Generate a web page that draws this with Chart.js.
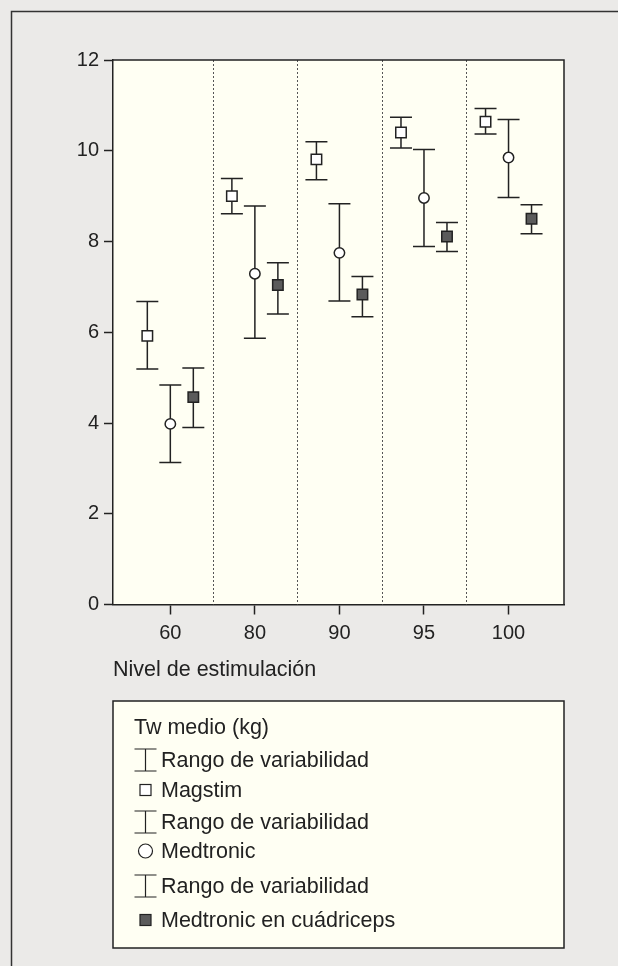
<!DOCTYPE html>
<html>
<head>
<meta charset="utf-8">
<script src="https://cdn.jsdelivr.net/npm/chart.js@4/dist/chart.umd.min.js"></script>
<style>
  html, body { margin: 0; padding: 0; background: #ebeae8; }
  #wrap { width: 618px; height: 966px; position: relative; }
  canvas { display: block; }
</style>
</head>
<body>
<div id="wrap"><canvas id="c" width="618" height="966"></canvas></div>
<script>
// Stimulation levels (categories on the x axis)
const levels = ['60', '80', '90', '95', '100'];

// Mean twitch (kg) and variability range per device
const magstimMean   = [5.92, 9.00, 9.81, 10.40, 10.64];
const magstimLow    = [5.19, 8.61, 9.36, 10.06, 10.37];
const magstimHigh   = [6.68, 9.39, 10.20, 10.74, 10.93];

const medtronicMean = [3.98, 7.29, 7.75, 8.96, 9.85];
const medtronicLow  = [3.13, 5.87, 6.69, 7.89, 8.97];
const medtronicHigh = [4.84, 8.78, 8.83, 10.03, 10.69];

const quadMean      = [4.57, 7.04, 6.83, 8.11, 8.50];
const quadLow       = [3.90, 6.40, 6.34, 7.78, 8.17];
const quadHigh      = [5.21, 7.53, 7.23, 8.42, 8.81];

const yTicks = [0, 2, 4, 6, 8, 10, 12];

const axisTitle = 'Nivel de estimulación';
const legendTitle = 'Tw medio (kg)';
const legendRows = [
  { kind: 'range',  text: 'Rango de variabilidad' },
  { kind: 'square', text: 'Magstim' },
  { kind: 'range',  text: 'Rango de variabilidad' },
  { kind: 'circle', text: 'Medtronic' },
  { kind: 'range',  text: 'Rango de variabilidad' },
  { kind: 'filled', text: 'Medtronic en cuádriceps' }
];

const FONT = "'Liberation Sans', Arial, Helvetica, sans-serif";
const INK = '#222';
const PAGE_BG = '#ebeae8';
const PLOT_BG = '#fffff3';
const FILL_DARK = '#5b5b5b';
const GROUP_SHIFT = 0.272;   // horizontal spread of the three devices inside a level

const series = [
  { label: 'Magstim',   mean: magstimMean,   low: magstimLow,   high: magstimHigh,   shift: -GROUP_SHIFT,
    style: 'rect',   radius: 7.4, fill: '#ffffff' },
  { label: 'Medtronic', mean: medtronicMean, low: medtronicLow, high: medtronicHigh, shift: 0,
    style: 'circle', radius: 5.2, fill: '#ffffff' },
  { label: 'Medtronic en cuádriceps', mean: quadMean, low: quadLow, high: quadHigh, shift: GROUP_SHIFT,
    style: 'rect',   radius: 7.4, fill: FILL_DARK }
];

const datasets = series.map(s => ({
  label: s.label,
  data: s.mean.map((v, i) => ({ x: i + s.shift, y: v, low: s.low[i], high: s.high[i] })),
  showLine: false,
  pointStyle: s.style,
  pointRadius: s.radius,
  pointHoverRadius: s.radius,
  pointBackgroundColor: s.fill,
  pointBorderColor: INK,
  pointBorderWidth: 1.5
}));

// Page background, outer frame, plot fill
const backdrop = {
  id: 'backdrop',
  beforeDraw(chart) {
    const { ctx, width, height, chartArea: a } = chart;
    ctx.save();
    ctx.fillStyle = PAGE_BG;
    ctx.fillRect(0, 0, width, height);
    ctx.strokeStyle = '#333';
    ctx.lineWidth = 1.5;
    ctx.beginPath();
    ctx.moveTo(width, 11.5);
    ctx.lineTo(11.5, 11.5);
    ctx.lineTo(11.5, height);
    ctx.stroke();
    ctx.fillStyle = PLOT_BG;
    ctx.fillRect(a.left, a.top, a.right - a.left, a.bottom - a.top);
    ctx.restore();
  }
};

// Dotted separators between levels, plot frame and range bars
const rangeBars = {
  id: 'rangeBars',
  beforeDatasetsDraw(chart) {
    const { ctx, chartArea: a, scales: { x, y } } = chart;
    ctx.save();
    // separators
    ctx.strokeStyle = '#555';
    ctx.lineWidth = 1;
    ctx.setLineDash([2, 2]);
    for (let i = 0; i < levels.length - 1; i++) {
      const px = Math.round(x.getPixelForValue(i + 0.5)) + 0.5;
      ctx.beginPath();
      ctx.moveTo(px, a.top);
      ctx.lineTo(px, a.bottom);
      ctx.stroke();
    }
    ctx.setLineDash([]);
    // top and right frame
    ctx.strokeStyle = INK;
    ctx.lineWidth = 1.5;
    ctx.beginPath();
    ctx.moveTo(a.left, a.top);
    ctx.lineTo(a.right, a.top);
    ctx.lineTo(a.right, a.bottom);
    ctx.stroke();
    // range bars
    ctx.strokeStyle = INK;
    ctx.lineWidth = 1.5;
    const cap = 11;
    chart.data.datasets.forEach(ds => {
      ds.data.forEach(p => {
        const px = x.getPixelForValue(p.x);
        const yl = y.getPixelForValue(p.low);
        const yh = y.getPixelForValue(p.high);
        ctx.beginPath();
        ctx.moveTo(px, yl);
        ctx.lineTo(px, yh);
        ctx.moveTo(px - cap, yh);
        ctx.lineTo(px + cap, yh);
        ctx.moveTo(px - cap, yl);
        ctx.lineTo(px + cap, yl);
        ctx.stroke();
      });
    });
    ctx.restore();
  }
};

// Boxed key below the plot
const keyBox = {
  id: 'keyBox',
  afterDraw(chart) {
    const { ctx, chartArea: a } = chart;
    const top = 701, bottom = 948;
    const left = a.left, right = a.right;
    ctx.save();
    ctx.fillStyle = PLOT_BG;
    ctx.fillRect(left, top, right - left, bottom - top);
    ctx.strokeStyle = INK;
    ctx.lineWidth = 1.5;
    ctx.strokeRect(left, top, right - left, bottom - top);

    ctx.font = '21.5px ' + FONT;
    ctx.fillStyle = INK;
    ctx.textBaseline = 'middle';
    ctx.textAlign = 'left';
    ctx.fillText(legendTitle, 134, 728);

    const rowY = [760, 790, 822, 851, 886, 920];
    const iconX = 145.5;
    legendRows.forEach((r, k) => {
      const cy = rowY[k];
      ctx.strokeStyle = INK;
      ctx.lineWidth = 1.2;
      if (r.kind === 'range') {
        ctx.beginPath();
        ctx.moveTo(iconX, cy - 11);
        ctx.lineTo(iconX, cy + 11);
        ctx.moveTo(iconX - 11, cy - 11);
        ctx.lineTo(iconX + 11, cy - 11);
        ctx.moveTo(iconX - 11, cy + 11);
        ctx.lineTo(iconX + 11, cy + 11);
        ctx.stroke();
      } else if (r.kind === 'square') {
        ctx.fillStyle = '#ffffff';
        ctx.fillRect(iconX - 5.5, cy - 5.5, 11, 11);
        ctx.strokeRect(iconX - 5.5, cy - 5.5, 11, 11);
      } else if (r.kind === 'circle') {
        ctx.fillStyle = '#ffffff';
        ctx.beginPath();
        ctx.arc(iconX, cy, 7, 0, Math.PI * 2);
        ctx.fill();
        ctx.stroke();
      } else {
        ctx.fillStyle = FILL_DARK;
        ctx.fillRect(iconX - 5.5, cy - 5.5, 11, 11);
        ctx.strokeRect(iconX - 5.5, cy - 5.5, 11, 11);
      }
      ctx.fillStyle = INK;
      ctx.fillText(r.text, 161, cy + 1);
    });
    ctx.restore();
  }
};

new Chart(document.getElementById('c'), {
  type: 'scatter',
  data: { datasets },
  plugins: [backdrop, rangeBars, keyBox],
  options: {
    responsive: false,
    animation: false,
    devicePixelRatio: 1,
    layout: { padding: { left: 0, top: 60, right: 54, bottom: 261.5 } },
    plugins: { legend: { display: false }, tooltip: { enabled: false } },
    events: [],
    scales: {
      x: {
        type: 'linear',
        position: 'bottom',
        min: -0.678,
        max: 4.656,
        afterBuildTicks: s => { s.ticks = levels.map((_, i) => ({ value: i })); },
        afterFit: s => { s.height = 100; },
        ticks: {
          callback: v => levels[Math.round(v)],
          font: { family: FONT, size: 20 },
          color: INK,
          padding: 7,
          maxRotation: 0,
          autoSkip: false
        },
        grid: { drawOnChartArea: false, drawTicks: true, tickLength: 10, tickColor: INK, tickWidth: 1.5 },
        border: { display: true, color: INK, width: 1.5 },
        title: {
          display: true,
          text: axisTitle,
          align: 'start',
          color: INK,
          font: { family: FONT, size: 21.5 },
          padding: { top: 0, bottom: 22 }
        }
      },
      y: {
        type: 'linear',
        min: 0,
        max: 12,
        afterBuildTicks: s => { s.ticks = yTicks.map(v => ({ value: v })); },
        afterFit: s => { s.width = 113; },
        ticks: {
          font: { family: FONT, size: 20 },
          color: INK,
          padding: 5
        },
        grid: { drawOnChartArea: false, drawTicks: true, tickLength: 9, tickColor: INK, tickWidth: 1.5 },
        border: { display: true, color: INK, width: 1.5 }
      }
    }
  }
});
</script>
</body>
</html>
